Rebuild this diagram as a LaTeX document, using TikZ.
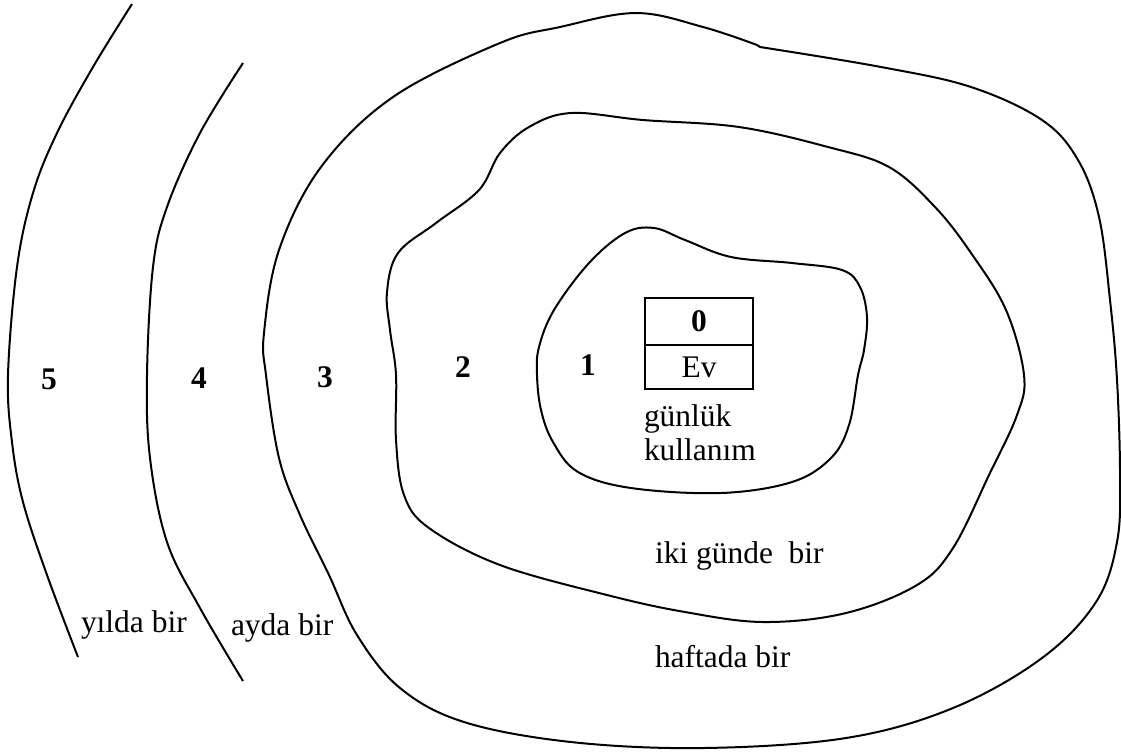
\documentclass[tikz,border=0pt]{standalone}
\usepackage{fontspec}
\setmainfont{Liberation Serif}
\begin{document}
\begin{tikzpicture}[x=0.375pt, y=-0.375pt, line width=0.75pt]
  \tikzset{
    zone/.style={font=\bfseries\fontsize{11.8}{13}\selectfont, inner sep=0pt},
    freq/.style={font=\fontsize{11.8}{12.4}\selectfont, inner sep=0pt, anchor=base west, align=left},
    cell/.style={draw, line width=0.75pt, minimum width=40.5pt, inner sep=0pt, outer sep=0pt, font=\fontsize{11.8}{13}\selectfont}
  }
  \useasboundingbox (0, 0) rectangle (1121, 755);
  % open arcs on the left
  \draw plot[smooth, tension=0.6] coordinates {(132,4) (93,67) (57,133) (33,193) (17,267) (8,375) (12,442) (23,502) (47,575) (78,657)};
  \draw plot[smooth, tension=0.6] coordinates {(243,63) (200,133) (167,207) (153,267) (147,375) (150,458) (167,542) (200,608) (243,681)};
  % closed rings
  \draw plot[smooth, tension=0.6] coordinates {(760,47) (881,67) (971,87) (1042,120) (1078,160) (1099,217) (1110,300) (1117,380) (1120,475) (1117,542) (1096,602) (1042,658) (953,708) (846,738) (703,748) (571,742) (464,722) (400,688) (357,635) (329,575) (300,515) (279,458) (266,375) (264,333) (279,250) (321,167) (393,97) (500,43) (560,27) (636,13) (703,27) (757,45)} -- cycle;
  \draw plot[smooth cycle, tension=0.6] coordinates {(643,120) (739,127) (828,147) (889,167) (935,207) (971,253) (1006,310) (1024,375) (1017,415) (989,475) (953,548) (917,585) (846,613) (764,622) (685,612) (607,595) (500,565) (429,528) (404,495) (396,440) (396,375) (390,330) (387,292) (398,253) (436,223) (479,190) (500,153) (529,127) (571,113)};
  \draw plot[smooth cycle, tension=0.6] coordinates {(654,228) (685,240) (731,257) (792,263) (842,270) (860,287) (867,317) (864,350) (858,375) (849,425) (831,458) (792,482) (721,493) (631,488) (578,472) (553,442) (541,410) (537,375) (539,347) (554,310) (589,263) (625,233)};
  % zone numbers
  \foreach \n/\x/\y in {5/49/379, 4/199/378, 3/325/377, 2/463/367, 1/588/365} {
    \node[zone] (z\n) at (\x, \y) {\n};
  }
  % home box
  \node[cell, minimum height=17.6pt] (zero) at (699, 321.5) {\bfseries 0};
  \node[cell, minimum height=16.5pt, anchor=north] (ev) at (zero.south) {Ev};
  % frequencies
  \node[freq] (daily) at (643, 460) {günlük\\kullanım};
  \node[freq] (twoday) at (654, 563) {iki günde\ \ bir};
  \node[freq] (weekly) at (654, 667) {haftada bir};
  \node[freq] (yearly) at (80, 632) {yılda bir};
  \node[freq] (monthly) at (230, 635) {ayda bir};
\end{tikzpicture}
\end{document}
